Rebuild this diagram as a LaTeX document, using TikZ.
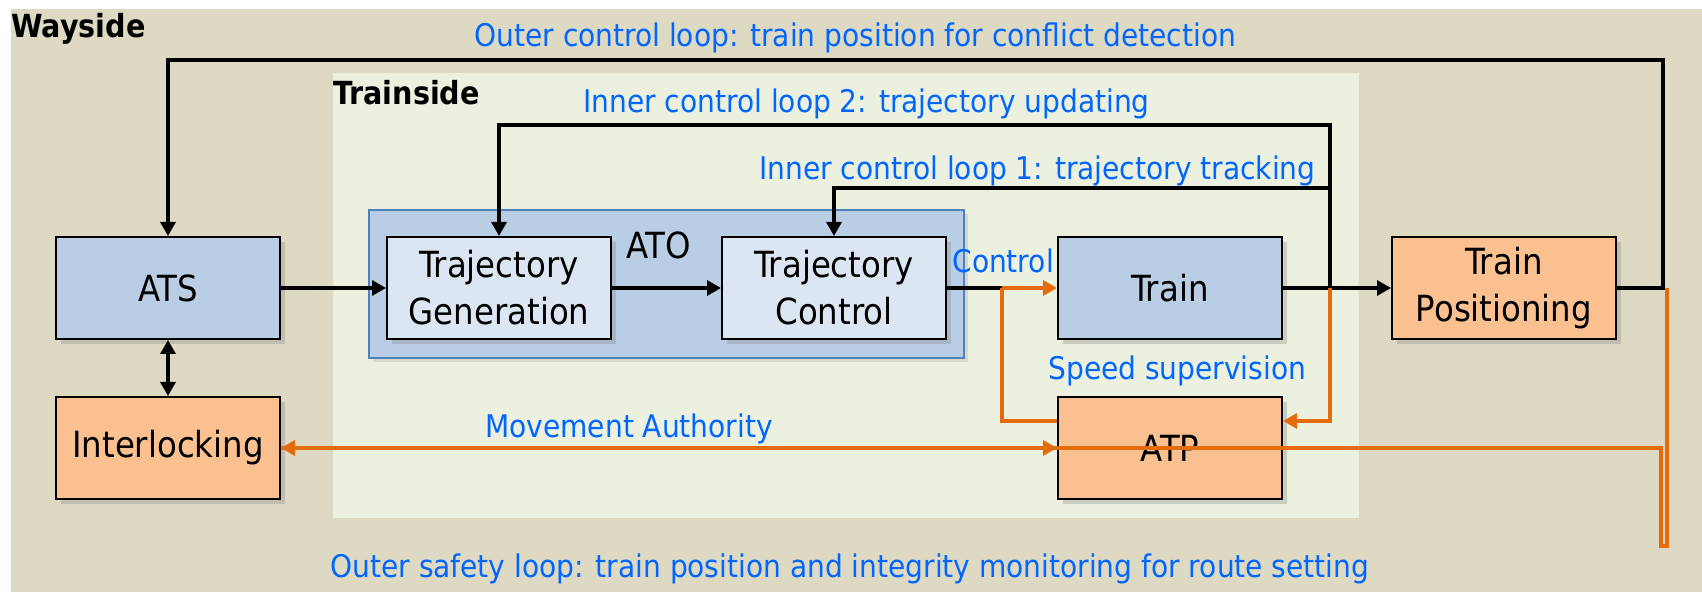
\documentclass[tikz,border=0pt]{standalone}
\usepackage{fontspec}
\setmainfont{DejaVu Sans Condensed}
\usetikzlibrary{arrows.meta,shadows}
\definecolor{wayside}{HTML}{DDD9C3}
\definecolor{trainside}{HTML}{EBF1DE}
\definecolor{boxblue}{HTML}{B9CDE5}
\definecolor{boxlight}{HTML}{DCE6F2}
\definecolor{boxorange}{HTML}{FAC090}
\definecolor{atoedge}{HTML}{4F81BD}
\definecolor{loopblue}{HTML}{0066FF}
\definecolor{safety}{HTML}{E46C0A}

\begin{document}
\begin{tikzpicture}[x=0.5pt,y=-0.5pt,
        tip/.style={-{Triangle[length=7pt,width=7.5pt]}},
        blk/.style={draw=black, line width=1.6pt},
        org/.style={draw=safety, line width=1.6pt},
        looptext/.style={text=loopblue, font=\fontsize{15.6}{18}\selectfont, anchor=base west, inner sep=0pt},
        areatext/.style={font=\fontsize{15.9}{18}\selectfont\bfseries, anchor=base west, inner sep=0pt}
    ]
    \useasboundingbox (0,0) rectangle (1702,592);
    \fill[wayside] (11,9) rectangle (1702,592);
    \fill[trainside] (333,73) rectangle (1359,518);

    \node[draw=atoedge, fill=boxblue, line width=1pt, minimum width=297.5pt, minimum height=74pt,
        inner sep=0pt, drop shadow={opacity=0.2, shadow xshift=2pt, shadow yshift=-2pt}] (ato) at (666.5,284) {};
    \node[anchor=base west, inner sep=0pt, font=\fontsize{18}{21}\selectfont] (atolbl) at (626,259) {ATO};

    \begin{scope}[
            every node/.style={draw, line width=1pt, minimum width=112pt, minimum height=51pt,
                align=center, inner sep=0pt, font=\fontsize{18}{23.5}\selectfont,
                drop shadow={opacity=0.3, shadow xshift=2.5pt, shadow yshift=-2.5pt}}
        ]
        \node[fill=boxblue] (ats) at (168,288) {ATS};
        \node[fill=boxorange] (il) at (168,448) {Interlocking};
        \node[fill=boxlight] (tg) at (499,288) {Trajectory\\Generation};
        \node[fill=boxlight] (tc) at (834,288) {Trajectory\\Control};
        \node[fill=boxblue] (train) at (1170,288) {Train};
        \node[fill=boxorange] (tp) at (1504,288) {Train\\Positioning};
        \node[fill=boxorange] (atp) at (1170,448) {ATP};
    \end{scope}

    \coordinate (jl) at (1002,288);
    \coordinate (jr) at (1330,288);
    \coordinate (jo) at (1663,288);
    \coordinate (l1) at (1330,188);
    \coordinate (l2) at (1330,125);
    \coordinate (lo) at (1663,60);
    \coordinate (so1) at (1667,546);
    \coordinate (so2) at (1661,546);

    \draw[blk, tip] (ats) -- (tg);
    \draw[blk, tip] (tg) -- (tc);
    \draw[blk] (tc) -- (jl);
    \draw[blk, tip] (train) -- (tp);
    \draw[blk, {Triangle[length=7pt,width=7.5pt]}-{Triangle[length=7pt,width=7.5pt]}] (ats) -- (il);
    \draw[blk, tip] (jr) -- (l2) -| (tg);
    \draw[blk, tip] (l1) -| (tc);
    \draw[blk, tip] (tp) -- (jo) -- (lo) -| (ats);

    \draw[org, tip] (jl) -- (train);
    \draw[org] ([yshift=13.5pt]atp.west) -| (jl);
    \draw[org, tip] (jr) |- ([yshift=13.5pt]atp.east);
    \draw[org, tip] (il) -- (atp);
    \draw[org, tip] ([xshift=2pt]jo) -- (so1) -- (so2) -- (so2 |- il) -- (il);

    \node[areatext] (way) at (11,38) {Wayside};
    \node[areatext] (trn) at (333,105) {Trainside};
    \node[looptext] (outer) at (474,47) {Outer control loop: train position for conflict detection};
    \node[looptext] (inner2) at (583,113) {Inner control loop 2: trajectory updating};
    \node[looptext] (inner1) at (759,180) {Inner control loop 1: trajectory tracking};
    \node[looptext] (ctrl) at (952,273) {Control};
    \node[looptext] (speed) at (1048,380) {Speed supervision};
    \node[looptext] (ma) at (485,438) {Movement Authority};
    \node[looptext] (safe) at (330,577) {Outer safety loop: train position and integrity monitoring for route setting};
\end{tikzpicture}
\end{document}
